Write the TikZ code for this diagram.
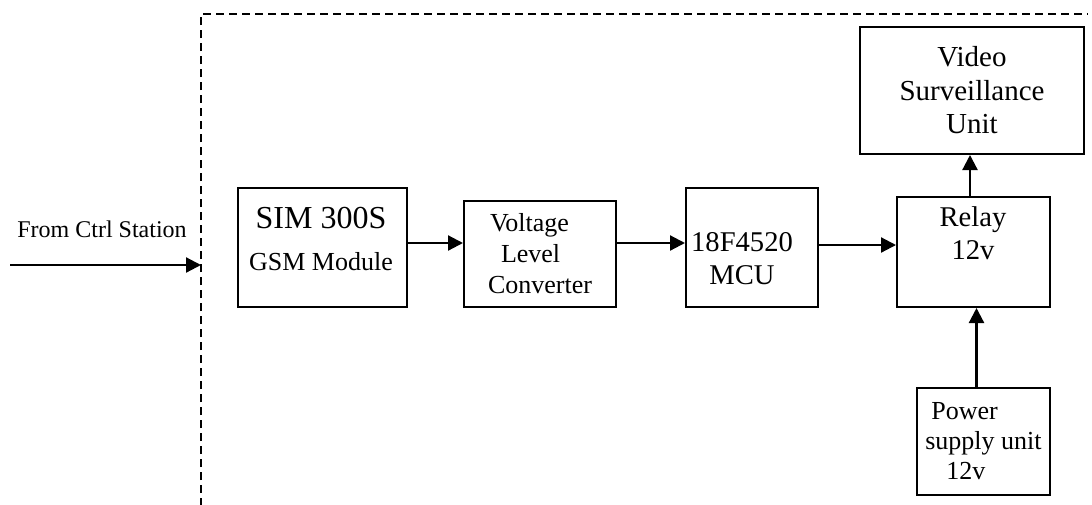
\documentclass[tikz,border=0pt]{standalone}
\usepackage{fontspec}
\setmainfont{Liberation Serif}
\usetikzlibrary{arrows.meta,calc}

\tikzset{
  blk/.style={draw,line width=1pt,inner sep=0pt},
  arr/.style={line width=1.1pt,-{Triangle[length=7.5pt,width=7.5pt]}},
  frame/.style={line width=1pt,dash pattern=on 4pt off 2.5pt},
  txt/.style={inner sep=0pt,align=center}
}

\begin{document}
\begin{tikzpicture}[x=0.5pt,y=0.5pt]
           \useasboundingbox (0,0) rectangle (1092,-504);
           \draw[frame] (201,-506) -- (201,-14) -- (1088,-14);

           \coordinate (src) at (10,-265);
           \coordinate (gate) at (201,-265);
           \node[txt,font=\fontsize{12}{14}\selectfont] (ctrl) at (102,-229) {From Ctrl Station};

           \node[blk,minimum width=84.5pt,minimum height=59.5pt] (sim) at (322.5,-247.5) {};
           \node[blk,minimum width=76pt,minimum height=53pt,align=left,
                 font=\fontsize{13}{15.5}\selectfont] (vlc) at (540,-254)
                {\hspace*{1pt}Voltage\\\hspace*{6.5pt}Level\\Converter};
           \node[blk,minimum width=66pt,minimum height=59.5pt] (mcu) at (752,-247.5) {};
           \node[blk,minimum width=76.5pt,minimum height=55pt] (relay) at (973.5,-252) {};
           \node[blk,minimum width=112pt,minimum height=63.5pt,align=center,
                 font=\fontsize{14.5}{16.75}\selectfont] (video) at (972,-90.5)
                {Video\\Surveillance\\Unit};
           \node[blk,minimum width=66.5pt,minimum height=53.5pt,align=left,
                 font=\fontsize{13}{15}\selectfont] (power) at (983.5,-441.5)
                {\hspace*{3pt}Power\\supply unit\\\hspace*{10.5pt}12v};

           \node[txt,font=\fontsize{13}{21}\selectfont] (simtxt) at (321,-239)
                {{\fontsize{16}{21}\selectfont SIM 300S}\\GSM Module};
           \node[txt,font=\fontsize{14.3}{16.5}\selectfont] (mcutxt) at (742,-258.5)
                {18F4520\\MCU};
           \node[txt,font=\fontsize{14.3}{16.5}\selectfont] (relaytxt) at (973,-233.5)
                {Relay\\12v};

           \draw[arr] (src) -- (gate);
           \draw[arr] ($(sim.east)+(0,4.5)$) -- ($(vlc.west)+(0,11)$);
           \draw[arr] ($(vlc.east)+(0,11)$) -- ($(mcu.west)+(0,4.5)$);
           \draw[arr] ($(mcu.east)+(0,2.5)$) -- ($(relay.west)+(0,7)$);
           \draw[arr] ($(relay.north)+(-3.5,0)$) -- ($(video.south)+(-2,0)$);
           \draw[arr] ($(power.north)+(-7,0)$) -- ($(relay.south)+(3,0)$);
         \end{tikzpicture}
\end{document}
